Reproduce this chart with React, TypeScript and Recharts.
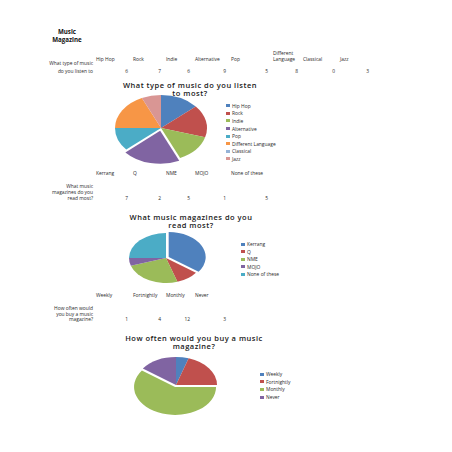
import React from 'react';
import { PieChart, Pie, Cell } from 'recharts';

// survey data
const musicTypes = ['Hip Hop', 'Rock', 'Indie', 'Alternative', 'Pop', 'Different Language', 'Classical', 'Jazz'];
const musicCounts = [6, 7, 6, 9, 5, 8, 0, 3];
const musicQuestion = ['What type of music', 'do you listen to'];
const musicTitle = ['What type of music do you listen', 'to most?'];

const magazines = ['Kerrang', 'Q', 'NME', 'MOJO', 'None of these'];
const magazineCounts = [7, 2, 5, 1, 5];
const magazineQuestion = ['What music', 'magazines do you', 'read most?'];
const magazineTitle = ['What music magazines do you', 'read most?'];

const frequencies = ['Weekly', 'Fortnightly', 'Monthly', 'Never'];
const frequencyCounts = [1, 4, 12, 3];
const frequencyQuestion = ['How often would', 'you buy a music', 'magazine?'];
const frequencyTitle = ['How often would you buy a music', 'magazine?'];

const palette = ['#4F81BD', '#C0504D', '#9BBB59', '#8064A2', '#4BACC6', '#F79646', '#95B3D7', '#D99694'];

const PAGE = 452;
const FONT = '"Open Sans", "DejaVu Sans", sans-serif';
const SMALL = 4.9;
const TEXT = '#2a2a2a';
// spreadsheet column edges (col A right edge, then B..I)
const edges = [93, 130, 163, 192, 228, 270, 300, 337, 371];

const abs = (extra: React.CSSProperties): React.CSSProperties => ({
  position: 'absolute',
  fontFamily: FONT,
  fontSize: SMALL,
  color: TEXT,
  whiteSpace: 'nowrap',
  ...extra,
});

const Table = ({ headers, values, question, headerBottom, rowBottom, labelLine }: any) => (
  <>
    {headers.map((h: string, i: number) => (
      <div
        key={'h' + i}
        style={abs({
          left: edges[i] + 3,
          width: edges[i + 1] - edges[i] - 3,
          bottom: PAGE - headerBottom,
          lineHeight: '6px',
          whiteSpace: 'normal',
        })}
      >
        {h}
      </div>
    ))}
    <div style={abs({ right: PAGE - edges[0], bottom: PAGE - rowBottom, lineHeight: labelLine + 'px', textAlign: 'right' })}>
      {question.map((q: string, i: number) => (
        <div key={i}>{q}</div>
      ))}
    </div>
    {values.map((v: number, i: number) => (
      <div
        key={'v' + i}
        style={abs({ right: PAGE - edges[i + 1] + 2, bottom: PAGE - rowBottom, lineHeight: labelLine + 'px' })}
      >
        {v}
      </div>
    ))}
  </>
);

const Title = ({ lines, x, y }: any) => (
  <div
    style={abs({
      left: x - 100,
      width: 200,
      top: y - 4.3,
      fontSize: 7.5,
      fontWeight: 600,
      letterSpacing: '0.5px',
      lineHeight: '8.6px',
      textAlign: 'center',
      color: '#1a1a1a',
    })}
  >
    {lines.map((l: string, i: number) => (
      <div key={i}>{l}</div>
    ))}
  </div>
);

const Legend = ({ names, x, y, step }: any) => (
  <>
    {names.map((n: string, i: number) => (
      <div key={n} style={abs({ left: x, top: y + i * step - 3, lineHeight: '6px', display: 'flex', alignItems: 'center' })}>
        <span style={{ display: 'inline-block', width: 4, height: 3, background: palette[i], marginRight: 2 }} />
        {n}
      </div>
    ))}
  </>
);

const EllipsePie = ({ names, values, cx, cy, rx, ry, explode, gap }: any) => {
  const size = rx * 2 + 16;
  const data = names.map((name: string, i: number) => ({ name, value: values[i] }));
  const total = values.reduce((a: number, b: number) => a + b, 0);
  const before = values.slice(0, explode).reduce((a: number, b: number) => a + b, 0);
  const mid = ((90 - (360 * (before + values[explode] / 2)) / total) * Math.PI) / 180;
  const dx = gap * Math.cos(mid);
  const dy = -gap * Math.sin(mid);
  return (
    <div
      style={{
        position: 'absolute',
        left: cx - size / 2,
        top: cy - size / 2,
        width: size,
        height: size,
        transform: `scaleY(${ry / rx})`,
      }}
    >
      <PieChart width={size} height={size} margin={{ top: 0, right: 0, bottom: 0, left: 0 }}>
        <Pie
          data={data}
          dataKey="value"
          nameKey="name"
          cx={size / 2}
          cy={size / 2}
          outerRadius={rx}
          startAngle={90}
          endAngle={-270}
          stroke="none"
          isAnimationActive={false}
        >
          {data.map((_: any, i: number) => (
            <Cell key={i} fill={i === explode ? 'transparent' : palette[i]} />
          ))}
        </Pie>
        <Pie
          data={data}
          dataKey="value"
          nameKey="name"
          cx={size / 2 + dx}
          cy={size / 2 + dy}
          outerRadius={rx}
          startAngle={90}
          endAngle={-270}
          stroke="none"
          isAnimationActive={false}
        >
          {data.map((_: any, i: number) => (
            <Cell key={i} fill={i === explode ? palette[i] : 'transparent'} />
          ))}
        </Pie>
      </PieChart>
    </div>
  );
};

export default function App() {
  return (
    <div style={{ position: 'absolute', left: 0, top: 0, width: PAGE, height: PAGE, background: '#fff', overflow: 'hidden' }}>
      <div style={abs({ left: 37, width: 60, top: 28, fontSize: 6.2, fontWeight: 700, lineHeight: '8px', textAlign: 'center', color: '#111' })}>
        <div>Music</div>
        <div>Magazine</div>
      </div>

      <Table headers={musicTypes} values={musicCounts} question={musicQuestion} headerBottom={62} rowBottom={74.5} labelLine={8} />
      <Title lines={musicTitle} x={190} y={85} />
      <EllipsePie names={musicTypes} values={musicCounts} cx={161} cy={128} rx={46} ry={33} explode={3} gap={4} />
      <Legend names={musicTypes} x={226} y={105.7} step={7.6} />

      <Table headers={magazines} values={magazineCounts} question={magazineQuestion} headerBottom={176} rowBottom={201} labelLine={6} />
      <Title lines={magazineTitle} x={191} y={217} />
      <EllipsePie names={magazines} values={magazineCounts} cx={166} cy={258} rx={37} ry={25} explode={0} gap={3} />
      <Legend names={magazines} x={241} y={244} step={7.5} />

      <Table headers={frequencies} values={frequencyCounts} question={frequencyQuestion} headerBottom={298} rowBottom={323} labelLine={5.6} />
      <Title lines={frequencyTitle} x={194} y={338} />
      <EllipsePie names={frequencies} values={frequencyCounts} cx={176} cy={385} rx={41} ry={28} explode={2} gap={3} />
      <Legend names={frequencies} x={260} y={374} step={7.7} />
    </div>
  );
}
